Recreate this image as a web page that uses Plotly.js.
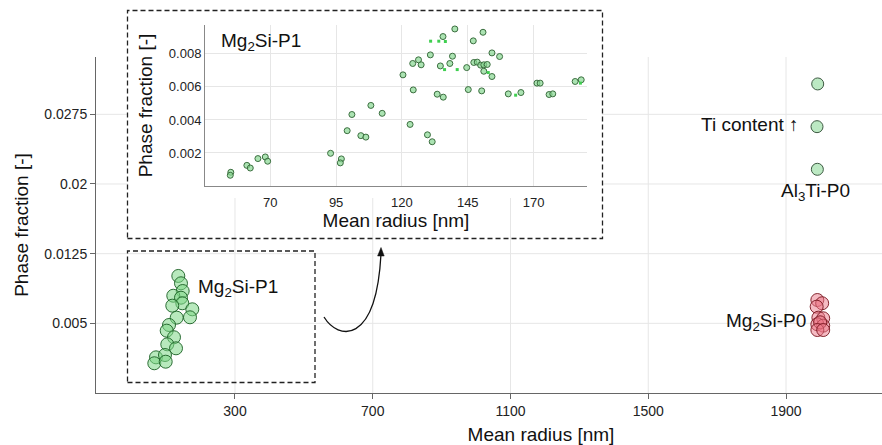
<!DOCTYPE html>
<html><head><meta charset="utf-8">
<script src="https://cdn.plot.ly/plotly-3.0.1.min.js"></script>
<style>html,body{margin:0;padding:0;overflow:hidden;background:#fff}#chart{width:986px;height:445px}</style>
</head><body><div id="chart"></div>
<script>
// ---- data ----
const p1Radius   = [135.4,143.2,148.1,120.8,143.2,147.0,117.9,176.0,169.3,130.7,108.4,101.7,122.9,103.4,128.7,70.6,96.7,65.7,98.8];
const p1Fraction = [0.0101,0.00931,0.00848,0.00797,0.00776,0.00716,0.0069,0.00651,0.00565,0.00561,0.00482,0.00421,0.0035,0.00274,0.00231,0.00134,0.00159,0.0007,0.00087];
const al3tiRadius   = [1992,1990,1991];
const al3tiFraction = [0.03077,0.02617,0.02158];
const p0Radius   = [1991,2005,1989,1994,2008,1991,2008,1999,1991,2008];
const p0Fraction = [0.00751,0.00716,0.00679,0.00561,0.00554,0.0049,0.00475,0.00511,0.00428,0.00428];
const insetRadius = [55.0,54.8,61.1,62.4,65.3,68.1,69.0,92.9,97.0,96.6,
  99.2,101.0,104.4,106.3,108.2,112.5,120.4,123.1,124.1,124.3,
  126.3,127.3,129.7,131.5,130.8,133.4,134.6,135.6,135.7,138.2,
  139.2,140.1,144.6,145.2,147.1,147.3,148.6,149.9,150.3,150.8,
  151.1,151.1,152.4,154.2,154.2,157.1,160.4,165.2,171.3,172.5,
  175.9,177.3,185.8,188.1];
const insetFraction = [0.00083,0.00065,0.00125,0.00109,0.00166,0.00176,0.0015,0.00198,0.00164,0.0014,
  0.00335,0.00433,0.00305,0.00296,0.00488,0.0044,0.00673,0.00373,0.00742,0.00582,
  0.00764,0.00734,0.0031,0.00268,0.00794,0.00556,0.00727,0.00905,0.00538,0.00742,
  0.00786,0.00951,0.00717,0.00584,0.00879,0.00748,0.0075,0.00732,0.00576,0.00931,
  0.00695,0.00734,0.00736,0.00663,0.00806,0.00784,0.00558,0.00566,0.00623,0.00623,
  0.00554,0.00558,0.00633,0.00643];
const smallRadius   = [130.9,134.0,136.5,136.2,141.0,152.8,163.2,187.8];
const smallFraction = [0.00877,0.00877,0.00875,0.00705,0.00705,0.00687,0.0055,0.00623];
const xTicks = [300,700,1100,1500,1900];
const xTickText = ['300','700','1100','1500','1900'];
const yTicks = [0.005,0.0125,0.02,0.0275];
const yTickText = ['0.005','0.0125','0.02','0.0275'];
const inXTicks = [70,95,120,145,170];
const inXTickText = ['70','95','120','145','170'];
const inYTicks = [0.002,0.004,0.006,0.008];
const inYTickText = ['0.002','0.004','0.006','0.008'];

// ---- layout helpers (pixel -> paper) ----
const W=986, H=445, L=96, R=0, T=25, B=52;
const PW=W-L-R, PH=H-T-B;
const px = v => (v-L)/PW;
const py = v => (H-B-v)/PH;
const FONT = 'Liberation Sans, Arial, sans-serif';
const GRID = '#e6e6e6';

const traces = [
  {x:p1Radius, y:p1Fraction, type:'scatter', mode:'markers', xaxis:'x', yaxis:'y',
   marker:{size:13, color:'rgba(125,215,135,0.55)', line:{color:'rgba(25,95,35,0.9)', width:1}}},
  {x:al3tiRadius, y:al3tiFraction, type:'scatter', mode:'markers', xaxis:'x', yaxis:'y',
   marker:{size:12, color:'rgba(165,225,175,0.75)', line:{color:'#3d5a42', width:1}}},
  {x:p0Radius, y:p0Fraction, type:'scatter', mode:'markers', xaxis:'x', yaxis:'y',
   marker:{size:13, color:'rgba(235,120,135,0.5)', line:{color:'rgba(120,20,30,0.9)', width:1}}},
  {x:insetRadius, y:insetFraction, type:'scatter', mode:'markers', xaxis:'x2', yaxis:'y2',
   marker:{size:6, color:'rgba(135,215,145,0.7)', line:{color:'#3b6e3f', width:1}}},
  {x:smallRadius, y:smallFraction, type:'scatter', mode:'markers', xaxis:'x2', yaxis:'y2',
   marker:{size:3, symbol:'square', color:'#3fcf50', line:{width:0}}}
];

const shapes = [];
xTicks.forEach(t => shapes.push({type:'line', xref:'x', yref:'paper', x0:t, x1:t, y0:0, y1:py(57), line:{color:GRID, width:1}, layer:'below'}));
yTicks.forEach(t => shapes.push({type:'line', xref:'paper', yref:'y', x0:0, x1:1, y0:t, y1:t, line:{color:GRID, width:1}, layer:'below'}));
// white backing of inset panel
shapes.push({type:'rect', xref:'paper', yref:'paper', x0:px(128), x1:px(602), y0:py(198), y1:py(10), fillcolor:'#ffffff', line:{width:0}, layer:'below'});
// dashed boxes
const dash = {color:'#222', width:1.3, dash:'5px,3px'};
shapes.push({type:'rect', xref:'paper', yref:'paper', x0:px(127.5), x1:px(602.5), y0:py(238.5), y1:py(10.5), line:dash, layer:'above'});
shapes.push({type:'rect', xref:'paper', yref:'paper', x0:px(127.5), x1:px(315), y0:py(382.5), y1:py(251), line:dash, layer:'above'});
// curved arrow and its head
shapes.push({type:'path', xref:'paper', yref:'paper', layer:'above',
  path:`M ${px(324)},${py(317)} C ${px(338)},${py(340)} ${px(376)},${py(346)} ${px(381)},${py(254)}`,
  line:{color:'#111', width:1.3}});
shapes.push({type:'path', xref:'paper', yref:'paper', layer:'above',
  path:`M ${px(381)},${py(247.5)} L ${px(377.6)},${py(256)} L ${px(384.2)},${py(256)} Z`,
  fillcolor:'#111', line:{color:'#111', width:0.5}});

const tf = {family:FONT, size:19, color:'#111'};
const annotations = [
  {xref:'paper', yref:'paper', x:px(196), y:py(288), xanchor:'left', yanchor:'middle', showarrow:false, text:'Mg<sub>2</sub>Si-P1', font:tf},
  {xref:'paper', yref:'paper', x:px(219), y:py(42), xanchor:'left', yanchor:'middle', showarrow:false, text:'Mg<sub>2</sub>Si-P1', font:tf},
  {xref:'paper', yref:'paper', x:px(801), y:py(124), xanchor:'right', yanchor:'middle', showarrow:false, text:'Ti content ↑', font:tf},
  {xref:'paper', yref:'paper', x:px(815), y:py(192), xanchor:'center', yanchor:'middle', showarrow:false, text:'Al<sub>3</sub>Ti-P0', font:tf},
  {xref:'paper', yref:'paper', x:px(808), y:py(322), xanchor:'right', yanchor:'middle', showarrow:false, text:'Mg<sub>2</sub>Si-P0', font:tf}
];

const layout = {
  width:W, height:H, margin:{l:L, r:R, t:T, b:B, pad:0},
  paper_bgcolor:'#ffffff', plot_bgcolor:'#ffffff',
  font:{family:FONT, size:14, color:'#222'},
  showlegend:false, hovermode:false,
  xaxis:{domain:[0,1], range:[-103.6,2480.7], tickvals:xTicks, ticktext:xTickText,
    showgrid:false, zeroline:false, showline:true, linecolor:'#666', linewidth:1,
    ticks:'outside', ticklen:5, tickcolor:'#666', tickfont:{size:14, color:'#222'},
    title:{text:'Mean radius [nm]', font:{size:19, color:'#111'}, standoff:10}, automargin:false},
  yaxis:{domain:[0,py(57)], range:[-0.0025,0.03367], tickvals:yTicks, ticktext:yTickText,
    showgrid:false, zeroline:false, showline:true, linecolor:'#666', linewidth:1,
    ticks:'outside', ticklen:5, tickcolor:'#666', tickfont:{size:14, color:'#222'},
    title:{text:'Phase fraction [-]', font:{size:19, color:'#111'}, standoff:10}, automargin:false},
  xaxis2:{domain:[px(205),px(587)], anchor:'y2', range:[45.2,190.3], tickvals:inXTicks, ticktext:inXTickText,
    showgrid:true, gridcolor:GRID, zeroline:false, showline:true, linecolor:'#888', linewidth:1,
    ticks:'', tickfont:{size:13, color:'#222'}, ticklabelstandoff:4,
    title:{text:'Mean radius [nm]', font:{size:19, color:'#111'}, standoff:5}, automargin:false},
  yaxis2:{domain:[py(186),1], anchor:'x2', range:[0,0.00975], tickvals:inYTicks, ticktext:inYTickText,
    showgrid:true, gridcolor:GRID, zeroline:false, showline:true, linecolor:'#888', linewidth:1,
    ticks:'', tickfont:{size:13, color:'#222'},
    title:{text:'Phase fraction [-]', font:{size:19, color:'#111'}, standoff:11}, automargin:false},
  shapes:shapes, annotations:annotations
};

Plotly.newPlot('chart', traces, layout, {staticPlot:true, displayModeBar:false, responsive:false});
</script>
</body></html>
